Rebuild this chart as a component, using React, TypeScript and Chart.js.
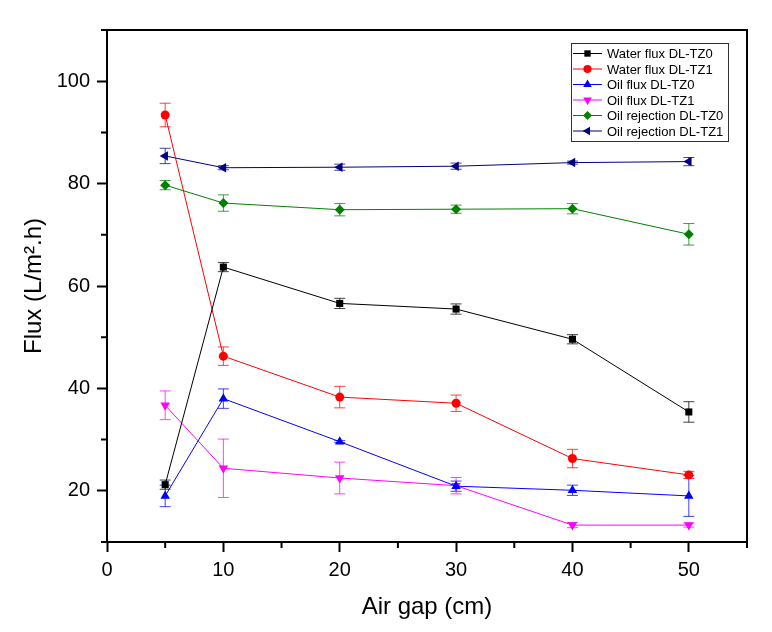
import { useEffect, useRef } from 'react';
import { Chart, registerables } from 'chart.js';
import { drawPoint } from 'chart.js/helpers';

Chart.register(...registerables);

const airGap = [5, 10, 20, 30, 40, 50];

const waterFluxTZ0 = [21.2, 63.7, 56.6, 55.5, 49.6, 35.4];
const waterFluxTZ0Err = [0.9, 0.9, 1.0, 1.0, 0.9, 2.0];
const waterFluxTZ1 = [93.4, 46.3, 38.3, 37.1, 26.3, 23.1];
const waterFluxTZ1Err = [2.3, 1.8, 2.1, 1.6, 1.8, 0.7];
const oilFluxTZ0 = [19.0, 38.0, 29.6, 20.9, 20.1, 19.0];
const oilFluxTZ0Err = [2.1, 1.9, 0.2, 1.0, 1.0, 4.0];
const oilFluxTZ1 = [36.7, 24.4, 22.5, 21.0, 13.3, 13.3];
const oilFluxTZ1Err = [2.8, 5.7, 3.1, 1.6, 0.5, 0.4];
const oilRejTZ0 = [79.7, 76.2, 74.9, 75.0, 75.1, 70.1];
const oilRejTZ0Err = [0.9, 1.6, 1.2, 0.8, 1.0, 2.1];
const oilRejTZ1 = [85.4, 83.1, 83.2, 83.4, 84.1, 84.3];
const oilRejTZ1Err = [1.5, 0.4, 0.6, 0.6, 0.3, 0.8];

const xMajor = [0, 10, 20, 30, 40, 50];
const xMinor = [5, 15, 25, 35, 45, 55];
const yMajor = [20, 40, 60, 80, 100];
const yMinor = [10, 30, 50, 70, 90, 110];

const FONT = '"Liberation Sans", Arial, sans-serif';

type Series = {
  label: string;
  values: number[];
  errors: number[];
  color: string;
  pointStyle: string;
  rotation: number;
  radius: number;
};

const series: Series[] = [
  { label: 'Water flux DL-TZ0', values: waterFluxTZ0, errors: waterFluxTZ0Err, color: '#000000', pointStyle: 'rect', rotation: 0, radius: 5 },
  { label: 'Water flux DL-TZ1', values: waterFluxTZ1, errors: waterFluxTZ1Err, color: '#ff0000', pointStyle: 'circle', rotation: 0, radius: 4.5 },
  { label: 'Oil flux DL-TZ0', values: oilFluxTZ0, errors: oilFluxTZ0Err, color: '#0000ff', pointStyle: 'triangle', rotation: 0, radius: 5.5 },
  { label: 'Oil flux DL-TZ1', values: oilFluxTZ1, errors: oilFluxTZ1Err, color: '#ff00ff', pointStyle: 'triangle', rotation: 180, radius: 5.5 },
  { label: 'Oil rejection DL-TZ0', values: oilRejTZ0, errors: oilRejTZ0Err, color: '#008000', pointStyle: 'rectRot', rotation: 0, radius: 5 },
  { label: 'Oil rejection DL-TZ1', values: oilRejTZ1, errors: oilRejTZ1Err, color: '#000080', pointStyle: 'triangle', rotation: -90, radius: 5.5 },
];

// error bars, minor ticks, frame, titles and the legend box
const decorations = {
  id: 'decorations',
  beforeDatasetsDraw(chart: any) {
    const ctx = chart.ctx;
    const yScale = chart.scales.y;
    ctx.save();
    ctx.lineWidth = 1;
    series.forEach((s, i) => {
      const meta = chart.getDatasetMeta(i);
      ctx.strokeStyle = s.color;
      ctx.globalAlpha = 0.75;
      meta.data.forEach((pt: any, j: number) => {
        const top = yScale.getPixelForValue(s.values[j] + s.errors[j]);
        const bot = yScale.getPixelForValue(s.values[j] - s.errors[j]);
        ctx.beginPath();
        ctx.moveTo(pt.x, top);
        ctx.lineTo(pt.x, bot);
        ctx.moveTo(pt.x - 5.5, top);
        ctx.lineTo(pt.x + 5.5, top);
        ctx.moveTo(pt.x - 5.5, bot);
        ctx.lineTo(pt.x + 5.5, bot);
        ctx.stroke();
      });
    });
    ctx.restore();
  },
  afterDraw(chart: any) {
    const ctx = chart.ctx;
    const { left, right, top, bottom } = chart.chartArea;
    const xs = chart.scales.x;
    const ys = chart.scales.y;
    ctx.save();
    ctx.strokeStyle = '#000';
    ctx.lineWidth = 2;
    ctx.beginPath();
    ctx.moveTo(left, top);
    ctx.lineTo(right, top);
    ctx.lineTo(right, bottom);
    ctx.stroke();

    ctx.beginPath();
    xMinor.forEach((v) => {
      const x = xs.getPixelForValue(v);
      ctx.moveTo(x, bottom);
      ctx.lineTo(x, bottom + 6);
    });
    yMinor.forEach((v) => {
      const y = ys.getPixelForValue(v);
      ctx.moveTo(left, y);
      ctx.lineTo(left - 6, y);
    });
    ctx.stroke();

    // axis titles
    ctx.fillStyle = '#000';
    ctx.font = `24px ${FONT}`;
    ctx.textAlign = 'center';
    ctx.textBaseline = 'middle';
    ctx.fillText('Air gap (cm)', (left + right) / 2, 607);
    ctx.save();
    ctx.translate(34, (top + bottom) / 2);
    ctx.rotate(-Math.PI / 2);
    ctx.fillText('Flux (L/m\u00b2.h)', 0, 0);
    ctx.restore();

    // legend
    const bx = right - 176;
    const by = top + 13;
    const bw = 157;
    const bh = 98;
    ctx.fillStyle = '#fff';
    ctx.fillRect(bx, by, bw, bh);
    ctx.lineWidth = 1;
    ctx.strokeStyle = '#333';
    ctx.strokeRect(bx + 0.5, by + 0.5, bw, bh);
    ctx.font = `13px ${FONT}`;
    ctx.textAlign = 'left';
    series.forEach((s, i) => {
      const cy = by + 10.5 + i * 15.5;
      ctx.strokeStyle = s.color;
      ctx.beginPath();
      ctx.moveTo(bx + 2, cy);
      ctx.lineTo(bx + 31, cy);
      ctx.stroke();
      ctx.fillStyle = s.color;
      drawPoint(ctx, { pointStyle: s.pointStyle as any, rotation: s.rotation, radius: s.radius * 0.9, borderWidth: 0 }, bx + 16.5, cy);
      ctx.fillStyle = '#000';
      ctx.fillText(s.label, bx + 36, cy + 1);
    });
    ctx.restore();
  },
};

export default function App() {
  const canvasRef = useRef<HTMLCanvasElement>(null);
  const chartRef = useRef<Chart | null>(null);

  useEffect(() => {
    if (!canvasRef.current) return;
    const ctx = canvasRef.current.getContext('2d');
    if (!ctx) return;

    if (chartRef.current) {
      chartRef.current.destroy();
    }

    chartRef.current = new Chart(ctx, {
      type: 'line',
      data: {
        datasets: series.map((s) => ({
          label: s.label,
          data: airGap.map((x, j) => ({ x, y: s.values[j] })),
          borderColor: s.color,
          backgroundColor: s.color,
          borderWidth: 1,
          pointStyle: s.pointStyle as any,
          pointRotation: s.rotation,
          pointRadius: s.radius,
          pointBorderWidth: 0,
          tension: 0,
          fill: false,
        })),
      },
      plugins: [decorations],
      options: {
        responsive: false,
        animation: false,
        layout: { padding: { left: 0, top: 30, right: 25, bottom: 0 } },
        plugins: {
          legend: { display: false },
          tooltip: { enabled: false },
        },
        scales: {
          x: {
            type: 'linear',
            min: 0,
            max: 55,
            afterBuildTicks: (axis: any) => {
              axis.ticks = xMajor.map((v) => ({ value: v }));
            },
            afterFit: (axis: any) => {
              axis.height = 90;
            },
            ticks: {
              color: '#000',
              font: { family: FONT, size: 20 },
              padding: 6,
              maxRotation: 0,
            },
            grid: {
              drawOnChartArea: false,
              drawTicks: true,
              tickLength: 10,
              tickWidth: 2,
              tickColor: '#000',
            },
            border: { display: true, color: '#000', width: 2 },
          },
          y: {
            type: 'linear',
            min: 10,
            max: 110,
            afterBuildTicks: (axis: any) => {
              axis.ticks = yMajor.map((v) => ({ value: v }));
            },
            afterFit: (axis: any) => {
              axis.width = 107;
            },
            ticks: {
              color: '#000',
              font: { family: FONT, size: 20 },
              padding: 7,
            },
            grid: {
              drawOnChartArea: false,
              drawTicks: true,
              tickLength: 10,
              tickWidth: 2,
              tickColor: '#000',
            },
            border: { display: true, color: '#000', width: 2 },
          },
        },
      },
    });

    return () => {
      if (chartRef.current) {
        chartRef.current.destroy();
        chartRef.current = null;
      }
    };
  }, []);

  return (
    <div style={{ position: 'absolute', left: 0, top: 0, width: 772, height: 632, background: '#fff' }}>
      <canvas ref={canvasRef} width={772} height={632} />
    </div>
  );
}
